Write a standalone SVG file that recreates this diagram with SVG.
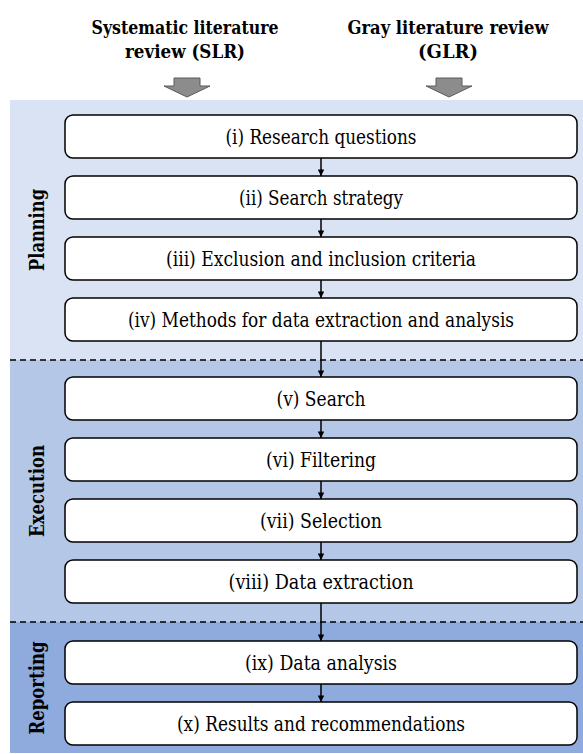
<svg xmlns="http://www.w3.org/2000/svg" width="583" height="754" viewBox="0 0 583 754">
<defs>
<style>
text{font-family:"DejaVu Serif Condensed","DejaVu Serif",serif;font-stretch:condensed;fill:#000;text-anchor:middle}
.box{fill:#ffffff;stroke:#000000;stroke-width:1.5}
.bt{font-size:19.5px}
.hd{font-size:19px;font-weight:bold}
.lbl{font-size:19.5px;font-weight:bold}
.dash{stroke:#000;stroke-width:1.5;stroke-dasharray:6 4;fill:none}
.con{stroke:#000;stroke-width:1.5;fill:none;marker-end:url(#ah)}
.garrow{fill:#8c8c8c;stroke:#5a5a5a;stroke-width:1}
</style>
<marker id="ah" viewBox="0 0 10 10" refX="10" refY="5" markerWidth="10" markerHeight="6.5" markerUnits="userSpaceOnUse" orient="auto">
<path d="M0,0 L10,5 L0,10 Z" fill="#000"/>
</marker>
</defs>
<rect width="583" height="754" fill="#ffffff"/>
<g id="bands">
<rect x="10" y="100" width="573" height="260" fill="#dae3f3"/>
<rect x="10" y="360" width="573" height="262" fill="#b4c7e7"/>
<rect x="10" y="622" width="573" height="131" fill="#8faadc"/>
<line class="dash" x1="10" y1="360" x2="583" y2="360"/>
<line class="dash" x1="10" y1="622" x2="583" y2="622"/>
</g>
<g id="headings">
<text class="hd" x="185" y="34" textLength="187" lengthAdjust="spacingAndGlyphs">Systematic literature</text>
<text class="hd" x="185" y="58" textLength="120" lengthAdjust="spacingAndGlyphs">review (SLR)</text>
<text class="hd" x="448" y="34" textLength="201" lengthAdjust="spacingAndGlyphs">Gray literature review</text>
<text class="hd" x="448" y="58" textLength="60" lengthAdjust="spacingAndGlyphs">(GLR)</text>
<path class="garrow" d="M174,78 H200 V86 H210 L187,97 L164,86 H174 Z"/>
<path class="garrow" d="M436,78 H462 V86 H472 L449,97 L426,86 H436 Z"/>
</g>
<g id="phase-labels">
<text class="lbl" transform="translate(44,230) rotate(-90)" textLength="82" lengthAdjust="spacingAndGlyphs">Planning</text>
<text class="lbl" transform="translate(44,491) rotate(-90)" textLength="92" lengthAdjust="spacingAndGlyphs">Execution</text>
<text class="lbl" transform="translate(44,688) rotate(-90)" textLength="93" lengthAdjust="spacingAndGlyphs">Reporting</text>
</g>
<g id="connectors">
<line class="con" x1="321" y1="158" x2="321" y2="176"/>
<line class="con" x1="321" y1="219" x2="321" y2="237"/>
<line class="con" x1="321" y1="280" x2="321" y2="298"/>
<line class="con" x1="321" y1="341" x2="321" y2="377"/>
<line class="con" x1="321" y1="420" x2="321" y2="438"/>
<line class="con" x1="321" y1="481" x2="321" y2="499"/>
<line class="con" x1="321" y1="542" x2="321" y2="560"/>
<line class="con" x1="321" y1="603" x2="321" y2="641"/>
<line class="con" x1="321" y1="684" x2="321" y2="702"/>
</g>
<g id="n1"><rect class="box" x="65" y="115" width="512" height="43" rx="8"/><text class="bt" x="321" y="143.5" textLength="191" lengthAdjust="spacingAndGlyphs">(i) Research questions</text></g>
<g id="n2"><rect class="box" x="65" y="176" width="512" height="43" rx="8"/><text class="bt" x="321" y="204.5" textLength="164" lengthAdjust="spacingAndGlyphs">(ii) Search strategy</text></g>
<g id="n3"><rect class="box" x="65" y="237" width="512" height="43" rx="8"/><text class="bt" x="321" y="265.5" textLength="310" lengthAdjust="spacingAndGlyphs">(iii) Exclusion and inclusion criteria</text></g>
<g id="n4"><rect class="box" x="65" y="298" width="512" height="43" rx="8"/><text class="bt" x="321" y="326.5" textLength="386" lengthAdjust="spacingAndGlyphs">(iv) Methods for data extraction and analysis</text></g>
<g id="n5"><rect class="box" x="65" y="377" width="512" height="43" rx="8"/><text class="bt" x="321" y="405.5" textLength="89" lengthAdjust="spacingAndGlyphs">(v) Search</text></g>
<g id="n6"><rect class="box" x="65" y="438" width="512" height="43" rx="8"/><text class="bt" x="321" y="466.5" textLength="110" lengthAdjust="spacingAndGlyphs">(vi) Filtering</text></g>
<g id="n7"><rect class="box" x="65" y="499" width="512" height="43" rx="8"/><text class="bt" x="321" y="527.5" textLength="122" lengthAdjust="spacingAndGlyphs">(vii) Selection</text></g>
<g id="n8"><rect class="box" x="65" y="560" width="512" height="43" rx="8"/><text class="bt" x="321" y="588.5" textLength="185" lengthAdjust="spacingAndGlyphs">(viii) Data extraction</text></g>
<g id="n9"><rect class="box" x="65" y="641" width="512" height="43" rx="8"/><text class="bt" x="321" y="669.5" textLength="152" lengthAdjust="spacingAndGlyphs">(ix) Data analysis</text></g>
<g id="n10"><rect class="box" x="65" y="702" width="512" height="43" rx="8"/><text class="bt" x="321" y="730.5" textLength="288" lengthAdjust="spacingAndGlyphs">(x) Results and recommendations</text></g>
</svg>
